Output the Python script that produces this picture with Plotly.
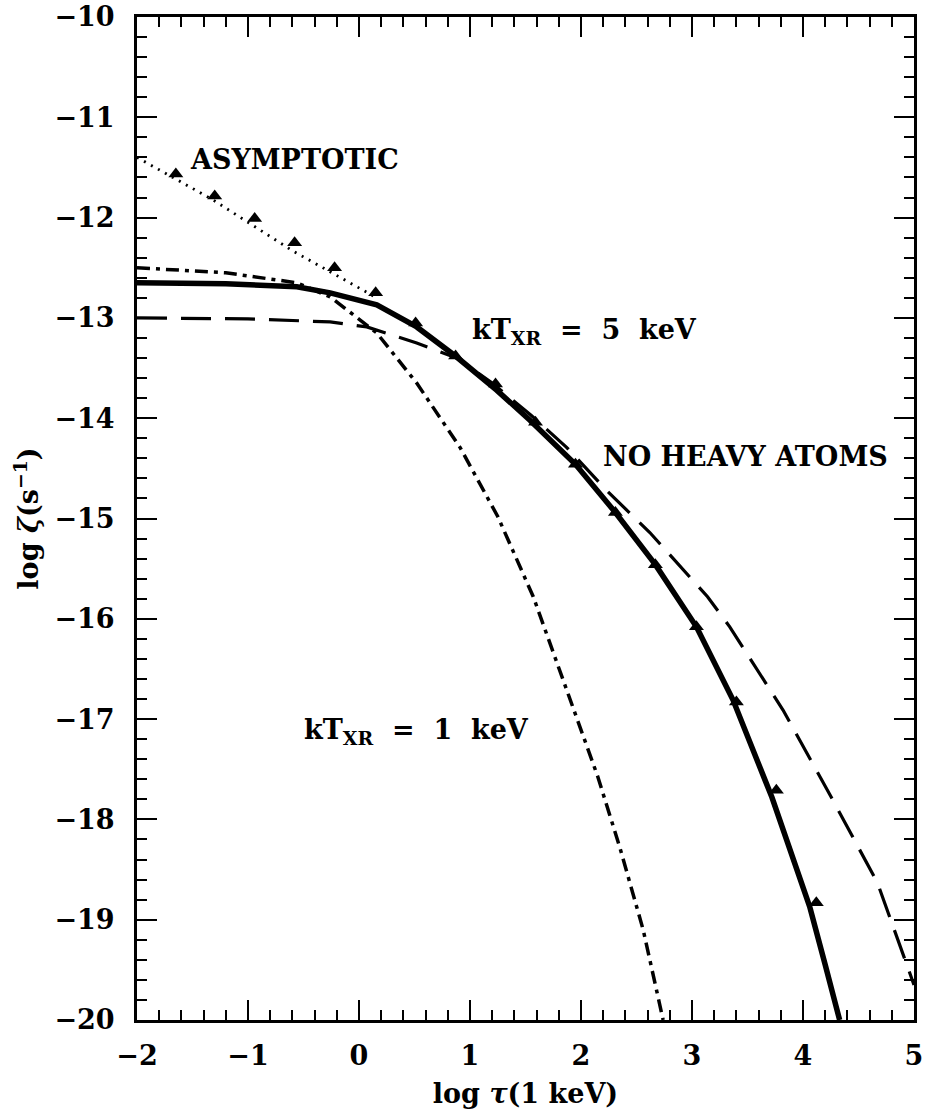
import plotly.graph_objects as go

# ---- data ----
solid_x = [-2.0, -1.2, -0.56, -0.26, 0.16, 0.52, 0.88, 1.24, 1.54, 1.95, 2.31, 2.67, 3.04, 3.37, 3.72, 4.06, 4.20, 4.33]
solid_y = [-12.65, -12.66, -12.69, -12.75, -12.87, -13.09, -13.39, -13.72, -14.02, -14.46, -14.94, -15.46, -16.08, -16.81, -17.78, -18.87, -19.45, -20.0]

dashdot_x = [-2.0, -1.2, -0.56, -0.26, 0.16, 0.52, 0.91, 1.25, 1.57, 1.90, 2.15, 2.35, 2.56, 2.74]
dashdot_y = [-12.50, -12.55, -12.65, -12.79, -13.15, -13.65, -14.29, -14.98, -15.78, -16.81, -17.57, -18.28, -19.10, -20.0]

dashed_x = [-2.0, -1.0, -0.26, 0.07, 0.52, 0.88, 1.20, 1.55, 1.87, 2.23, 2.62, 3.14, 3.34, 3.82, 4.27, 4.67, 5.0]
dashed_y = [-13.0, -13.01, -13.04, -13.09, -13.25, -13.40, -13.65, -13.97, -14.29, -14.72, -15.14, -15.78, -16.08, -16.91, -17.81, -18.63, -19.65]

dotted_x = [-2.0, -1.32, -0.6, 0.16]
dotted_y = [-11.40, -11.82, -12.33, -12.80]

marker_x = [-1.65, -1.30, -0.94, -0.58, -0.22, 0.15, 0.51, 0.87, 1.23, 1.59, 1.95, 2.31, 2.67, 3.04, 3.40, 3.76, 4.12]
marker_y = [-11.565, -11.785, -12.01, -12.25, -12.50, -12.75, -13.05, -13.38, -13.66, -14.04, -14.46, -14.94, -15.46, -16.08, -16.83, -17.71, -18.83]

x_ticks = [-2, -1, 0, 1, 2, 3, 4, 5]
y_ticks = [-20, -19, -18, -17, -16, -15, -14, -13, -12, -11, -10]

FONT = "DejaVu Serif"
NB = "\u00a0"

fig = go.Figure()
fig.add_trace(go.Scatter(x=dotted_x, y=dotted_y, mode="lines",
                         line=dict(color="black", width=2.8, dash="2px,6px")))
fig.add_trace(go.Scatter(x=dashed_x, y=dashed_y, mode="lines",
                         line=dict(color="black", width=3.2, dash="30px,14px")))
fig.add_trace(go.Scatter(x=dashdot_x, y=dashdot_y, mode="lines",
                         line=dict(color="black", width=3.5, dash="13px,6px,4px,6px")))
fig.add_trace(go.Scatter(x=solid_x, y=solid_y, mode="lines",
                         line=dict(color="black", width=5.5)))
fig.add_trace(go.Scatter(x=marker_x, y=marker_y, mode="markers",
                         marker=dict(symbol="triangle-up", size=13, color="black")))

ann_font = dict(family=FONT, size=27, color="black", weight="bold")
fig.add_annotation(x=-1.65, y=-11.42, text="ASYMPTOTIC", showarrow=False,
                   xanchor="left", yanchor="middle", xshift=12, font=ann_font)
fig.add_annotation(x=1.0, y=-13.14, text=f"kT<sub>XR</sub>{NB}{NB}={NB}{NB}5{NB}{NB}keV", showarrow=False,
                   xanchor="left", yanchor="middle", xshift=0, font=ann_font)
fig.add_annotation(x=2.2, y=-14.38, text="NO HEAVY ATOMS", showarrow=False,
                   xanchor="left", yanchor="middle", xshift=-2, font=ann_font)
fig.add_annotation(x=-0.51, y=-17.12, text=f"kT<sub>XR</sub>{NB}{NB}={NB}{NB}1{NB}{NB}keV", showarrow=False,
                   xanchor="left", yanchor="middle", xshift=0, font=ann_font)

axis_common = dict(showline=True, linewidth=3, linecolor="black", mirror="allticks",
                   ticks="inside", ticklen=20, tickwidth=2, tickcolor="black",
                   showgrid=False, zeroline=False,
                   tickfont=dict(family=FONT, size=27, color="black", weight="bold"),
                   minor=dict(ticks="inside", ticklen=10, tickwidth=2, tickcolor="black",
                              dtick=0.2, showgrid=False))

title_font = dict(family=FONT, size=27, color="black", weight="bold")
fig.update_xaxes(range=[-2, 5], tickvals=x_ticks,
                 title=dict(text="log <i>τ</i>(1 keV)", font=title_font, standoff=14),
                 ticklabelstandoff=10, **axis_common)
fig.update_yaxes(range=[-20, -10], tickvals=y_ticks,
                 title=dict(text="log <i>ζ</i>(s<sup>−1</sup>)", font=title_font, standoff=8),
                 ticklabelstandoff=14, **axis_common)

fig.update_layout(width=927, height=1119, showlegend=False,
                  plot_bgcolor="white", paper_bgcolor="white",
                  margin=dict(l=137, r=13, t=17, b=99, autoexpand=False))

fig.write_html("out.html", config={"displayModeBar": False},
               post_script="document.body.style.margin='0px';")
